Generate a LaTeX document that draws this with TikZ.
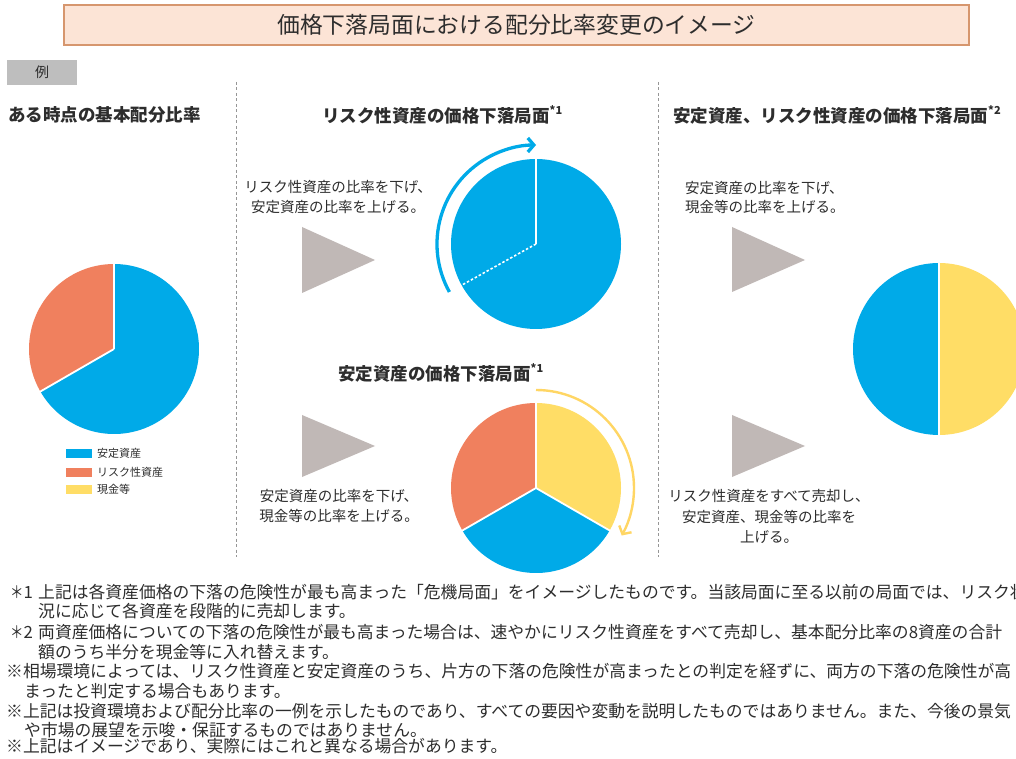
\documentclass[tikz,border=0pt]{standalone}
\usepackage{fontspec}
\newfontfamily\jp{Noto Sans CJK JP}
\usetikzlibrary{arrows.meta}
\definecolor{cblue}{RGB}{0,170,232}
\definecolor{corange}{RGB}{240,128,94}
\definecolor{cyellow}{RGB}{255,221,102}
\definecolor{ctri}{RGB}{192,184,182}
\definecolor{ctext}{RGB}{45,45,45}
\definecolor{ctitlefill}{RGB}{252,228,214}
\definecolor{ctitledraw}{RGB}{214,150,110}
\definecolor{cgraybox}{RGB}{190,190,190}
\definecolor{cdash}{RGB}{150,150,150}
\definecolor{cyarc}{RGB}{255,214,100}
\newcommand{\supnote}[1]{\raisebox{0.45em}{\fontsize{11}{11}\selectfont #1}}
\newcommand{\fnmark}[1]{\scalebox{0.8}[1]{＊}#1}
\begin{document}
\begin{tikzpicture}[x=1pt,y=1pt,
  every node/.style={font=\jp, text=ctext, inner sep=0pt},
  titlebox/.style={draw=ctitledraw, fill=ctitlefill, line width=1.2pt, minimum width=905pt, minimum height=40pt, font=\jp\fontsize{22.8}{26}\selectfont},
  exbox/.style={fill=cgraybox, minimum width=70pt, minimum height=25pt, font=\jp\fontsize{14}{15}\selectfont},
  heading/.style={anchor=west, font=\jp\bfseries\fontsize{17.5}{21}\selectfont},
  body/.style={align=center, font=\jp\fontsize{14.5}{20.5}\selectfont},
  bodyl/.style={align=left, anchor=west, font=\jp\fontsize{14.5}{19.5}\selectfont},
  legtext/.style={anchor=west, font=\jp\fontsize{11}{12}\selectfont},
  swatch/.style={minimum width=26pt, minimum height=9pt},
  foot/.style={anchor=west, font=\jp\fontsize{16.8}{19}\selectfont},
  sep/.style={draw=cdash, line width=0.7pt, dash pattern=on 3pt off 2.5pt},
  tri/.style={fill=ctri},
  cut/.style={draw=white, line width=1.8pt},
  bluearc/.style={draw=cblue, line width=3.3pt, -{Straight Barb[length=6pt,width=14pt]}},
  yellowarc/.style={draw=cyarc, line width=2.4pt, -{Straight Barb[length=6pt,width=14pt]}}
]
\useasboundingbox (0,0) rectangle (1016,758);
\clip (0,0) rectangle (1016,758);
\fill[white] (0,0) rectangle (1016,758);

% title and label
\node[titlebox] (title) at (516.5,733) {価格下落局面における配分比率変更のイメージ};
\node[exbox] (ex) at (42,685.5) {例};

% separators
\coordinate (s1t) at (236,676); \coordinate (s1b) at (236,201);
\coordinate (s2t) at (658,676); \coordinate (s2b) at (658,201);
\draw[sep] (s1t) -- (s1b);
\draw[sep] (s2t) -- (s2b);

% headings
\node[heading] (h1) at (8,643) {ある時点の基本配分比率};
\node[heading] (h2) at (322,643) {リスク性資産の価格下落局面\supnote{*1}};
\node[heading] (h3) at (673,643) {安定資産、リスク性資産の価格下落局面\supnote{*2}};
\node[heading] (h4) at (338,385) {安定資産の価格下落局面\supnote{*1}};

% left pie
\coordinate (cA) at (114,409);
\fill[corange] (cA) -- ++(90:85) arc[start angle=90,end angle=210,radius=85] -- cycle;
\fill[cblue] (cA) -- ++(210:85) arc[start angle=210,end angle=450,radius=85] -- cycle;
\draw[cut] (cA) -- ++(90:86);
\draw[cut] (cA) -- ++(210:86);

% legend
\node[swatch, fill=cblue] (lg1) at (79,304.5) {};
\node[swatch, fill=corange] (lg2) at (79,286) {};
\node[swatch, fill=cyellow] (lg3) at (79,269) {};
\node[legtext] (lt1) at (97,304.5) {安定資産};
\node[legtext] (lt2) at (97,286) {リスク性資産};
\node[legtext] (lt3) at (97,269) {現金等};

% middle top
\node[body] (t1) at (338,561) {リスク性資産の比率を下げ、\\安定資産の比率を上げる。};
\fill[tri] (302,531) -- (302,465) -- (375,498) -- cycle;
\coordinate (cB) at (536,514);
\fill[cblue] (cB) circle[radius=85];
\draw[white, line width=1.3pt] (cB) -- ++(90:86);
\draw[white, line width=1.6pt, dash pattern=on 2.5pt off 2pt] (cB) -- ++(209:86);
\draw[bluearc] (cB) ++(209:99) arc[start angle=209,end angle=90,radius=99];

% middle bottom
\fill[tri] (302,343) -- (302,281) -- (375,312) -- cycle;
\node[body] (t2) at (339,252) {安定資産の比率を下げ、\\現金等の比率を上げる。};
\coordinate (cC) at (536,270);
\fill[cyellow] (cC) -- ++(90:85) arc[start angle=90,end angle=-30,radius=85] -- cycle;
\fill[corange] (cC) -- ++(90:85) arc[start angle=90,end angle=210,radius=85] -- cycle;
\fill[cblue] (cC) -- ++(210:85) arc[start angle=210,end angle=330,radius=85] -- cycle;
\draw[cut] (cC) -- ++(90:86);
\draw[cut] (cC) -- ++(210:86);
\draw[cut] (cC) -- ++(330:86);
\draw[yellowarc] (cC) ++(90:98) arc[start angle=90,end angle=-29,radius=98];

% right column
\node[bodyl] (t3) at (685,560.5) {安定資産の比率を下げ、\\現金等の比率を上げる。};
\fill[tri] (732,531) -- (732,466) -- (805,498) -- cycle;
\fill[tri] (732,343) -- (732,281) -- (805,312) -- cycle;
\coordinate (cD) at (939,409);
\fill[cblue] (cD) -- ++(90:86) arc[start angle=90,end angle=270,radius=86] -- cycle;
\fill[cyellow] (cD) -- ++(-90:86) arc[start angle=-90,end angle=90,radius=86] -- cycle;
\draw[white, line width=1.3pt] (cD) ++(90:86) -- ++(270:172);
\node[body] (t4) at (769,241.5) {リスク性資産をすべて売却し、\\安定資産、現金等の比率を\\上げる。};

% footnotes
\node[foot] (f1) at (10,166) {\fnmark{1}};
\node[foot] (f1a) at (38,166) {上記は各資産価格の下落の危険性が最も高まった「危機局面」をイメージしたものです。当該局面に至る以前の局面では、リスク状};
\node[foot] (f1b) at (38,147) {況に応じて各資産を段階的に売却します。};
\node[foot] (f2) at (10,126) {\fnmark{2}};
\node[foot] (f2a) at (38,126) {両資産価格についての下落の危険性が最も高まった場合は、速やかにリスク性資産をすべて売却し、基本配分比率の8資産の合計};
\node[foot] (f2b) at (38,106) {額のうち半分を現金等に入れ替えます。};
\node[foot] (f3a) at (6,87) {※相場環境によっては、リスク性資産と安定資産のうち、片方の下落の危険性が高まったとの判定を経ずに、両方の下落の危険性が高};
\node[foot] (f3b) at (24,67) {まったと判定する場合もあります。};
\node[foot] (f4a) at (6,47) {※上記は投資環境および配分比率の一例を示したものであり、すべての要因や変動を説明したものではありません。また、今後の景気};
\node[foot] (f4b) at (24,28) {や市場の展望を示唆・保証するものではありません。};
\node[foot] (f5) at (6,12) {※上記はイメージであり、実際にはこれと異なる場合があります。};
\end{tikzpicture}
\end{document}
